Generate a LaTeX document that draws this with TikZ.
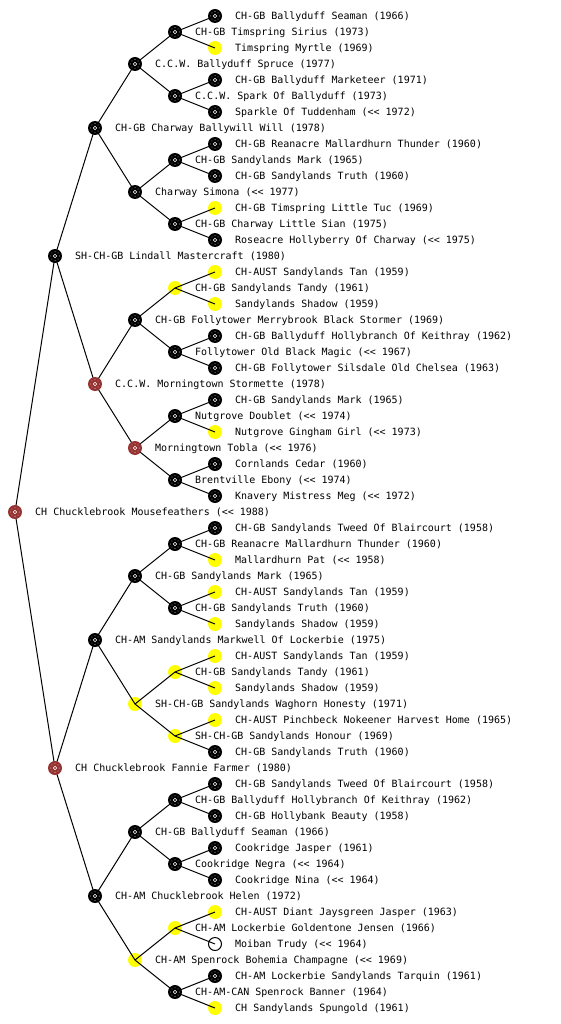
\documentclass[tikz,border=0pt]{standalone}
\usepackage{fontspec}
\setmonofont{DejaVu Sans Mono}
\pgfdeclarelayer{back}
\pgfdeclarelayer{mid}
\pgfsetlayers{back,mid,main}
\definecolor{nodebrown}{RGB}{150,50,50}
\definecolor{nodeyellow}{RGB}{255,255,0}
\newcommand{\dlt}{<\kern0pt<}
\tikzset{
  ball/.style={circle, minimum size=14pt, inner sep=0pt, draw=none},
  dots/.style={path picture={
      \foreach \a in {0,45,...,315}{\fill[white] (path picture bounding box.center) ++(\a:4.3) circle (0.45);}
      \draw[white, line width=0.5pt] (path picture bounding box.center) circle (1.7);}},
  blk/.style={ball, fill=black, dots},
  brw/.style={ball, fill=nodebrown, dots},
  ylw/.style={ball, fill=nodeyellow},
  wht/.style={circle, minimum size=13pt, inner sep=0pt, draw=black, line width=1pt, fill=white},
  conn/.style={draw=black, line width=1pt},
  lbl/.style={anchor=west, inner sep=0pt, text height=7.5pt, text depth=0pt,
      font=\ttfamily\fontsize{10}{12}\selectfont}
}
\begin{document}
\begin{tikzpicture}[x=1pt,y=-1pt]
\useasboundingbox (0,0) rectangle (560,1024);
% yellow and white markers (edges drawn over them)
\begin{pgfonlayer}{back}
\fill[white] (0,0) rectangle (560,1024);
\foreach \i/\x in {3/215,13/215,17/215,18/175,19/215,27/215,35/215,37/215,39/215,41/215,42/175,43/215,44/135,45/215,46/175,57/215,58/175,60/135,63/215}
  \node[ylw] (n\i) at (\x,16*\i) {};
\node[wht] (n59) at (215,944) {};
\end{pgfonlayer}
% dark markers
\foreach \i/\x in {1/215,2/175,4/135,5/215,6/175,7/215,8/95,9/215,10/175,11/215,12/135,14/175,15/215,16/55,20/135,21/215,22/175,23/215,25/215,26/175,29/215,30/175,31/215,33/215,34/175,36/135,38/175,40/95,47/215,49/215,50/175,51/215,52/135,53/215,54/175,55/215,56/95,61/215,62/175}
  \node[blk] (n\i) at (\x,16*\i) {};
\foreach \i/\x in {24/95,28/135,32/15,48/55}
  \node[brw] (n\i) at (\x,16*\i) {};
% connectors
\begin{pgfonlayer}{mid}
\foreach \p/\c in {32/16,32/48,16/8,16/24,48/40,48/56,
  8/4,8/12,24/20,24/28,40/36,40/44,56/52,56/60,
  4/2,4/6,12/10,12/14,20/18,20/22,28/26,28/30,36/34,36/38,44/42,44/46,52/50,52/54,60/58,60/62,
  2/1,2/3,6/5,6/7,10/9,10/11,14/13,14/15,18/17,18/19,22/21,22/23,26/25,26/27,30/29,30/31,
  34/33,34/35,38/37,38/39,42/41,42/43,46/45,46/47,50/49,50/51,54/53,54/55,58/57,58/59,62/61,62/63}
  \draw[conn] (n\p.center) -- (n\c.center);
\end{pgfonlayer}
% labels
\foreach \i/\x/\lab in {
 1/215/{CH-GB Ballyduff Seaman (1966)},
 2/175/{CH-GB Timspring Sirius (1973)},
 3/215/{Timspring Myrtle (1969)},
 4/135/{C.C.W. Ballyduff Spruce (1977)},
 5/215/{CH-GB Ballyduff Marketeer (1971)},
 6/175/{C.C.W. Spark Of Ballyduff (1973)},
 7/215/{Sparkle Of Tuddenham (\dlt{} 1972)},
 8/95/{CH-GB Charway Ballywill Will (1978)},
 9/215/{CH-GB Reanacre Mallardhurn Thunder (1960)},
 10/175/{CH-GB Sandylands Mark (1965)},
 11/215/{CH-GB Sandylands Truth (1960)},
 12/135/{Charway Simona (\dlt{} 1977)},
 13/215/{CH-GB Timspring Little Tuc (1969)},
 14/175/{CH-GB Charway Little Sian (1975)},
 15/215/{Roseacre Hollyberry Of Charway (\dlt{} 1975)},
 16/55/{SH-CH-GB Lindall Mastercraft (1980)},
 17/215/{CH-AUST Sandylands Tan (1959)},
 18/175/{CH-GB Sandylands Tandy (1961)},
 19/215/{Sandylands Shadow (1959)},
 20/135/{CH-GB Follytower Merrybrook Black Stormer (1969)},
 21/215/{CH-GB Ballyduff Hollybranch Of Keithray (1962)},
 22/175/{Follytower Old Black Magic (\dlt{} 1967)},
 23/215/{CH-GB Follytower Silsdale Old Chelsea (1963)},
 24/95/{C.C.W. Morningtown Stormette (1978)},
 25/215/{CH-GB Sandylands Mark (1965)},
 26/175/{Nutgrove Doublet (\dlt{} 1974)},
 27/215/{Nutgrove Gingham Girl (\dlt{} 1973)},
 28/135/{Morningtown Tobla (\dlt{} 1976)},
 29/215/{Cornlands Cedar (1960)},
 30/175/{Brentville Ebony (\dlt{} 1974)},
 31/215/{Knavery Mistress Meg (\dlt{} 1972)},
 32/15/{CH Chucklebrook Mousefeathers (\dlt{} 1988)},
 33/215/{CH-GB Sandylands Tweed Of Blaircourt (1958)},
 34/175/{CH-GB Reanacre Mallardhurn Thunder (1960)},
 35/215/{Mallardhurn Pat (\dlt{} 1958)},
 36/135/{CH-GB Sandylands Mark (1965)},
 37/215/{CH-AUST Sandylands Tan (1959)},
 38/175/{CH-GB Sandylands Truth (1960)},
 39/215/{Sandylands Shadow (1959)},
 40/95/{CH-AM Sandylands Markwell Of Lockerbie (1975)},
 41/215/{CH-AUST Sandylands Tan (1959)},
 42/175/{CH-GB Sandylands Tandy (1961)},
 43/215/{Sandylands Shadow (1959)},
 44/135/{SH-CH-GB Sandylands Waghorn Honesty (1971)},
 45/215/{CH-AUST Pinchbeck Nokeener Harvest Home (1965)},
 46/175/{SH-CH-GB Sandylands Honour (1969)},
 47/215/{CH-GB Sandylands Truth (1960)},
 48/55/{CH Chucklebrook Fannie Farmer (1980)},
 49/215/{CH-GB Sandylands Tweed Of Blaircourt (1958)},
 50/175/{CH-GB Ballyduff Hollybranch Of Keithray (1962)},
 51/215/{CH-GB Hollybank Beauty (1958)},
 52/135/{CH-GB Ballyduff Seaman (1966)},
 53/215/{Cookridge Jasper (1961)},
 54/175/{Cookridge Negra (\dlt{} 1964)},
 55/215/{Cookridge Nina (\dlt{} 1964)},
 56/95/{CH-AM Chucklebrook Helen (1972)},
 57/215/{CH-AUST Diant Jaysgreen Jasper (1963)},
 58/175/{CH-AM Lockerbie Goldentone Jensen (1966)},
 59/215/{Moiban Trudy (\dlt{} 1964)},
 60/135/{CH-AM Spenrock Bohemia Champagne (\dlt{} 1969)},
 61/215/{CH-AM Lockerbie Sandylands Tarquin (1961)},
 62/175/{CH-AM-CAN Spenrock Banner (1964)},
 63/215/{CH Sandylands Spungold (1961)}}
  \node[lbl] (t\i) at (\x+20,16*\i) {\lab};
\end{tikzpicture}
\end{document}
